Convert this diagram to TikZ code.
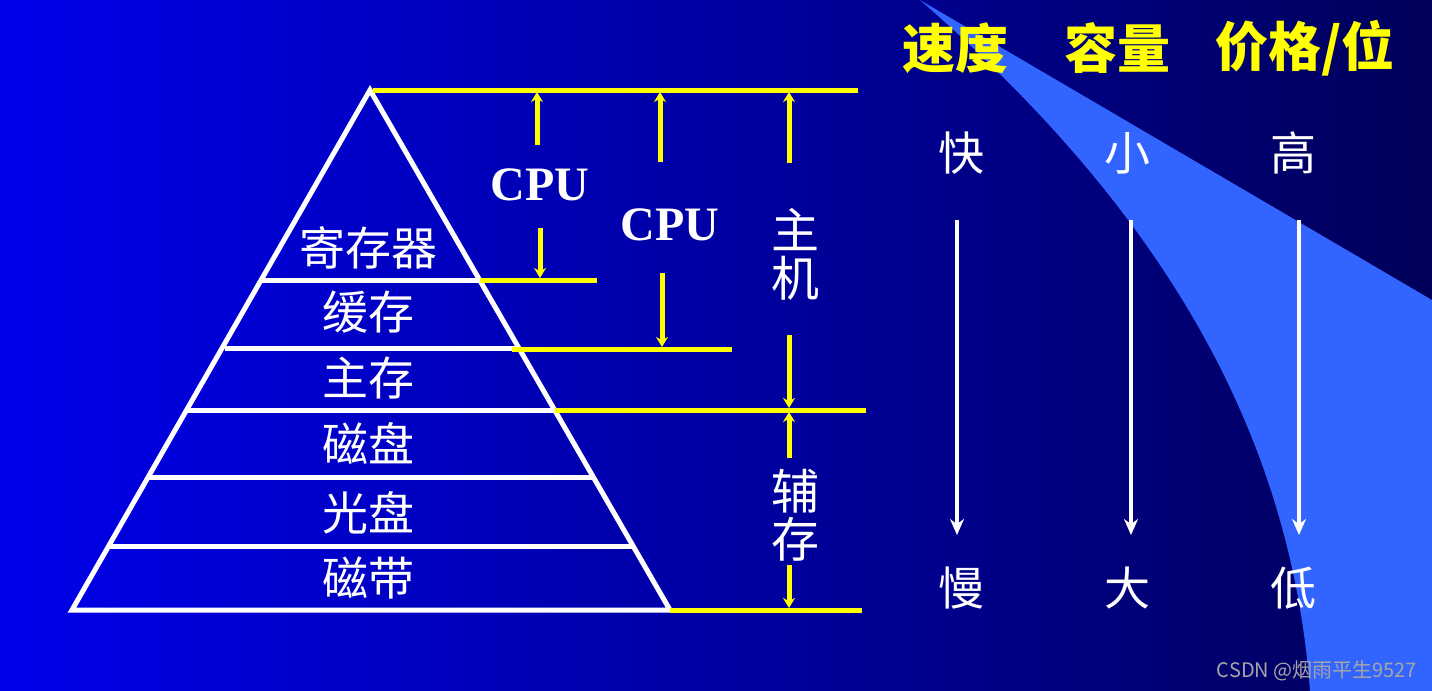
\documentclass[tikz,border=0pt]{standalone}
\usepackage{fontspec}
\setmainfont{Liberation Serif}
\newfontfamily\cjk{Noto Sans CJK SC}
\usetikzlibrary{arrows.meta}
\definecolor{bgL}{RGB}{0,0,235}
\definecolor{bgR}{RGB}{0,0,90}
\definecolor{band}{RGB}{50,100,255}
\definecolor{ylw}{RGB}{255,255,0}
\tikzset{
  wl/.style={white,line width=2.5pt},
  yl/.style={ylw,line width=2.5pt},
  yarr/.style={ylw,line width=2.5pt,-{Stealth[length=5pt,width=6pt]}},
  warr/.style={white,line width=2pt,-{Stealth[length=8pt,width=7pt]}},
  lab/.style={white,font=\cjk\fontsize{23}{25}\selectfont},
  tit/.style={ylw,font=\cjk\bfseries\fontsize{26.5}{28}\selectfont},
  cpu/.style={white,font=\bfseries\fontsize{24}{26}\selectfont}
}
\begin{document}
\begin{tikzpicture}[x=0.5pt,y=-0.5pt]
\useasboundingbox (0,0) rectangle (1432,691);
\shade[left color=bgL,right color=bgR] (0,0) rectangle (1432,691);
\fill[band] (920,0) -- (1432,300) -- (1432,691) -- (1310,691)
  .. controls (1290,420) and (1150,200) .. (920,0) -- cycle;
% triangle
\coordinate (A) at (370,90); \coordinate (BL) at (72,610); \coordinate (BR) at (670,610);
\draw[wl,line join=miter] (A) -- (BL) -- (BR) -- cycle;
\foreach \y/\xa/\xb in {280/262/480, 348/225/515, 410/187/555, 477/148/593, 546/110/632}
  \draw[wl] (\xa,\y) -- (\xb,\y);
\node[lab] (r1) at (368,248) {寄存器};
\node[lab] (r2) at (368,312) {缓存};
\node[lab] (r3) at (368,378) {主存};
\node[lab] (r4) at (368,443) {磁盘};
\node[lab] (r5) at (368,513) {光盘};
\node[lab] (r6) at (368,578) {磁带};
% yellow lines
\draw[yl] (373,90) -- (858,90);
\draw[yl] (480,280) -- (597,280);
\draw[yl] (512,349) -- (732,349);
\draw[yl] (555,410) -- (866,410);
\draw[yl] (670,610) -- (862,610);
% arrows
\node[cpu] (c1) at (540,185) {CPU};
\draw[yarr] (537,145) -- (537,92);
\draw[yarr] (540,228) -- (540,278);
\node[cpu] (c2) at (670,225) {CPU};
\draw[yarr] (660,162) -- (660,92);
\draw[yarr] (662,273) -- (662,347);
\node[lab,align=center,font=\cjk\fontsize{24}{24}\selectfont] (zj) at (795,254) {主\\机};
\draw[yarr] (789,163) -- (789,92);
\draw[yarr] (789,335) -- (789,408);
\node[lab,align=center,font=\cjk\fontsize{24}{24}\selectfont] (fc) at (795,515) {辅\\存};
\draw[yarr] (789,458) -- (789,412);
\draw[yarr] (789,565) -- (789,608);
% right
\node[tit] at (955,48) {速度};
\node[tit] at (1117,48) {容量};
\node[tit] at (1305,48) {价格/位};
\node[lab] (k) at (961,153) {快};
\node[lab] (x) at (1127,153) {小};
\node[lab] (g) at (1293,153) {高};
\node[lab] (m) at (961,588) {慢};
\node[lab] (d) at (1127,588) {大};
\node[lab] (dd) at (1293,588) {低};
\draw[warr] (957,220) -- (957,535);
\draw[warr] (1131,220) -- (1131,535);
\draw[warr] (1299,220) -- (1299,535);
\node[gray!70,font=\cjk\fontsize{10}{12}\selectfont] at (1317,671) {CSDN @烟雨平生9527};
\end{tikzpicture}
\end{document}
